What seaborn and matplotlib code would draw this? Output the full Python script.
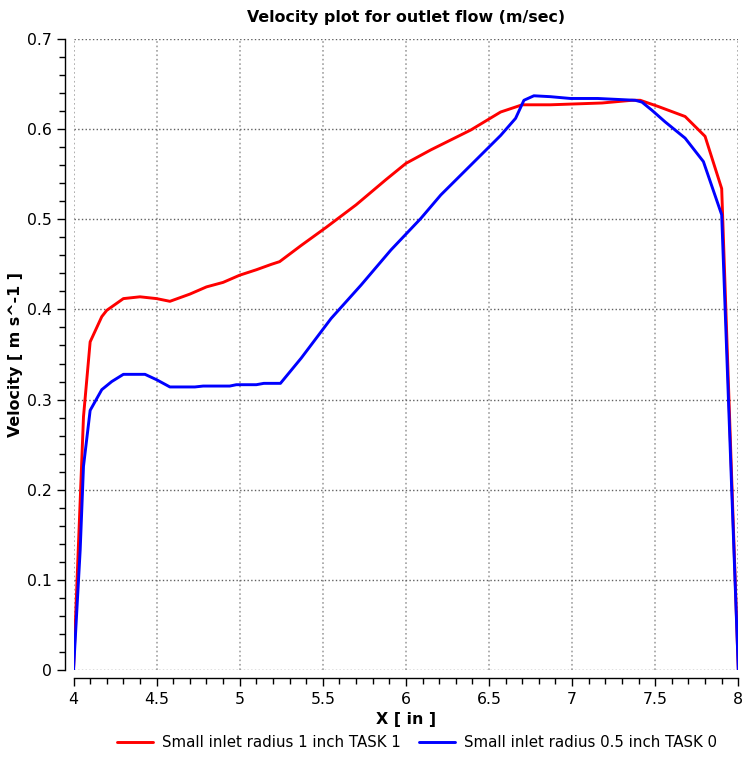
import numpy as np
import pandas as pd
import matplotlib
matplotlib.use('Agg')
import matplotlib.pyplot as plt
from matplotlib.ticker import MultipleLocator, FuncFormatter
import seaborn as sns

# Dane (X w calach, prędkość w m/s)
x_duzy = [4.0, 4.06, 4.10, 4.17, 4.20, 4.30, 4.40, 4.50, 4.58, 4.70, 4.80, 4.90,
          5.0, 5.10, 5.19, 5.24, 5.37, 5.52, 5.70, 5.88, 6.0, 6.15, 6.39, 6.57,
          6.70, 6.87, 7.18, 7.36, 7.41, 7.52, 7.68, 7.80, 7.90, 8.0]
v_duzy = [0, 0.281, 0.364, 0.392, 0.399, 0.412, 0.414, 0.412, 0.409, 0.417, 0.425, 0.430,
          0.438, 0.444, 0.450, 0.453, 0.471, 0.491, 0.516, 0.544, 0.562, 0.577, 0.599, 0.619,
          0.627, 0.627, 0.629, 0.632, 0.632, 0.625, 0.614, 0.592, 0.534, 0]

x_maly = [4.0, 4.04, 4.06, 4.10, 4.17, 4.23, 4.30, 4.43, 4.50, 4.58, 4.73, 4.78, 4.94,
          4.98, 5.10, 5.145, 5.245, 5.37, 5.55, 5.73, 5.91, 6.09, 6.21, 6.39, 6.57, 6.66,
          6.71, 6.77, 6.87, 6.99, 7.155, 7.38, 7.42, 7.48, 7.56, 7.68, 7.79, 7.90, 8.0]
v_maly = [0, 0.133, 0.226, 0.288, 0.311, 0.320, 0.328, 0.328, 0.322, 0.314, 0.314, 0.315, 0.315,
          0.3165, 0.3165, 0.318, 0.318, 0.346, 0.39, 0.427, 0.466, 0.501, 0.527, 0.560, 0.593, 0.612,
          0.632, 0.637, 0.636, 0.634, 0.634, 0.632, 0.630, 0.621, 0.608, 0.590, 0.564, 0.505, 0]

etykiety = ['Small inlet radius 1 inch TASK 1', 'Small inlet radius 0.5 inch TASK 0']

df = pd.concat([
    pd.DataFrame({'x': x_duzy, 'v': v_duzy, 'seria': etykiety[0]}),
    pd.DataFrame({'x': x_maly, 'v': v_maly, 'seria': etykiety[1]}),
])

sns.set_style('white')
plt.rcParams['font.family'] = ['DejaVu Sans']
plt.rcParams['text.color'] = 'black'
plt.rcParams['axes.labelcolor'] = 'black'
plt.rcParams['xtick.color'] = 'black'
plt.rcParams['ytick.color'] = 'black'

fig = plt.figure(figsize=(7.51, 7.57), dpi=100)
ax = fig.add_axes([0.0979, 0.1149, 0.8852, 0.8336])

sns.lineplot(data=df, x='x', y='v', hue='seria', palette=['#ff0000', '#0000ff'],
             linewidth=2.1, ax=ax, sort=False)

ax.set_xlim(4, 8)
ax.set_ylim(0, 0.7)
ax.xaxis.set_major_locator(MultipleLocator(0.5))
ax.xaxis.set_minor_locator(MultipleLocator(0.1))
ax.yaxis.set_major_locator(MultipleLocator(0.1))
ax.yaxis.set_minor_locator(MultipleLocator(0.02))
fmt = FuncFormatter(lambda v, p: '%g' % round(v, 3))
ax.xaxis.set_major_formatter(fmt)
ax.yaxis.set_major_formatter(fmt)
ax.tick_params(which='major', direction='out', length=6, width=1, labelsize=11.3,
               bottom=True, left=True)
ax.tick_params(which='minor', direction='out', length=4, width=1,
               bottom=True, left=True)
# siatka: poziome ciemniejsze, pionowe jaśniejsze
ax.grid(True, axis='y', which='major', linestyle=':', color='#606060', linewidth=1)
ax.grid(True, axis='x', which='major', linestyle=':', color='#a0a0a0', linewidth=1.2)

sns.despine(ax=ax, offset=6)
for s in ['left', 'bottom']:
    ax.spines[s].set_color('black')
    ax.spines[s].set_linewidth(1)

ax.set_title('Velocity plot for outlet flow (m/sec)', fontsize=11.4, fontweight='bold', pad=12)
ax.set_xlabel('X [ in ]', fontsize=11.4, fontweight='bold', labelpad=4)
ax.set_ylabel('Velocity [ m s^-1 ]', fontsize=11.4, fontweight='bold', labelpad=3)

ax.legend(loc='center', bbox_to_anchor=(0.555, 0.019), bbox_transform=fig.transFigure,
          ncol=2, frameon=False, fontsize=10.8, handlelength=2.4, handletextpad=0.6,
          columnspacing=1.2)

fig.savefig('out.png', dpi=100)
